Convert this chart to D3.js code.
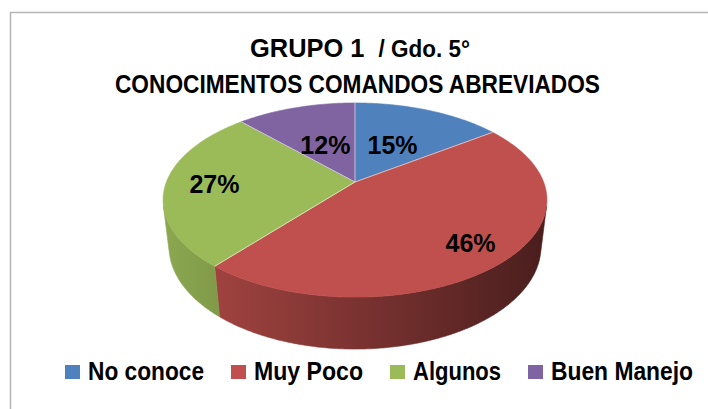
<!DOCTYPE html>
<html>
<head>
<meta charset="utf-8">
<script src="https://cdn.jsdelivr.net/npm/d3@7"></script>
<style>
  html, body { margin: 0; padding: 0; background: #fff; }
  svg { display: block; }
  text { font-family: "Liberation Sans", Arial, sans-serif; font-weight: bold; fill: #000; white-space: pre; }
</style>
</head>
<body>
<script>

// chart data
var categories = ["No conoce", "Muy Poco", "Algunos", "Buen Manejo"];
var values = [15, 46, 27, 12];
var labels = ["15%", "46%", "27%", "12%"];
var colors = ["#4F81BD", "#C0504D", "#9BBB59", "#8064A2"];

var width = 708;
var height = 409;

var svg = d3.select("body").append("svg")
    .attr("width", width)
    .attr("height", height);

// chart frame (runs off the right and bottom of the picture)
svg.append("rect")
    .attr("x", 10.5)
    .attr("y", 12.5)
    .attr("width", 720)
    .attr("height", 420)
    .attr("fill", "none")
    .attr("stroke", "#b5b5b5")
    .attr("stroke-width", 1.5);

// title
var title1 = svg.append("text")
    .attr("x", 360)
    .attr("y", 57)
    .attr("text-anchor", "middle")
    .attr("textLength", 220)
    .attr("lengthAdjust", "spacingAndGlyphs");
title1.append("tspan").style("font-size", "26px").text("GRUPO 1  ");
title1.append("tspan").style("font-size", "23px").text("/ Gdo. 5°");

svg.append("text")
    .attr("x", 357.5)
    .attr("y", 93)
    .attr("text-anchor", "middle")
    .attr("textLength", 485)
    .attr("lengthAdjust", "spacingAndGlyphs")
    .style("font-size", "26px")
    .text("CONOCIMENTOS COMANDOS ABREVIADOS");

// 3d pie: simple perspective camera looking down on a flat disc
var cx = 355, cy = 182;        // where the disc centre lands on screen
var unit = 188.6;              // screen size of one disc radius
var camDist = 4.67;            // camera distance in disc radii
var tilt = 29.8 * Math.PI / 180;
var thick = 0.29;              // pie height in disc radii
var sa = Math.sin(tilt), ca = Math.cos(tilt);

function project(X, Y, Z) {
    var d = camDist - Y * sa - Z * ca;
    return [cx + unit * camDist * X / d,
            cy - unit * camDist * (Y * ca - Z * sa) / d];
}

// angle 0 = back of the disc, clockwise seen from above (same as d3.pie)
function rim(theta, r, Y) {
    return project(r * Math.sin(theta), Y, -r * Math.cos(theta));
}

function arcPoints(a0, a1, r, Y) {
    var n = Math.max(2, Math.ceil((a1 - a0) / 0.01));
    return d3.range(n + 1).map(function(i) {
        return rim(a0 + (a1 - a0) * i / n, r, Y);
    });
}

var line = d3.line();

var arcs = d3.pie()
    .sort(null)
    .value(function(d) { return d; })(values);

// the outer wall faces the camera where Z > 1 / (camDist * cos(tilt))
var zs = 1 / (camDist * ca);
var visA = Math.acos(-zs);
var visB = 2 * Math.PI - visA;
var xLeft = rim(visB, 1, 0)[0];
var xRight = rim(visA, 1, 0)[0];
var shade = d3.scaleLinear().domain([xLeft, xRight]).range([0.9, 0.38]);

var defs = svg.append("defs");
colors.forEach(function(c, i) {
    var g = defs.append("linearGradient")
        .attr("id", "wall" + i)
        .attr("gradientUnits", "userSpaceOnUse")
        .attr("x1", xLeft).attr("x2", xRight)
        .attr("y1", 0).attr("y2", 0);
    [0, 1].forEach(function(t) {
        g.append("stop")
            .attr("offset", t)
            .attr("stop-color", d3.interpolateRgb("#000", c)(shade(xLeft + t * (xRight - xLeft))));
    });
});

var walls = arcs.map(function(a, i) {
    var a0 = Math.max(a.startAngle, visA);
    var a1 = Math.min(a.endAngle, visB);
    if (a1 <= a0) return null;
    var top = arcPoints(a0, a1, 1, 0);
    var bottom = arcPoints(a0, a1, 1, -thick).reverse();
    return {i: i, d: line(top.concat(bottom)) + "Z"};
}).filter(Boolean);

svg.append("g")
    .selectAll("path")
    .data(walls)
    .join("path")
    .attr("d", function(d) { return d.d; })
    .attr("fill", function(d) { return "url(#wall" + d.i + ")"; })
    .attr("stroke", function(d) { return "url(#wall" + d.i + ")"; })
    .attr("stroke-width", 0.6);

// top faces
svg.append("g")
    .selectAll("path")
    .data(arcs)
    .join("path")
    .attr("d", function(a) {
        return line([project(0, 0, 0)].concat(arcPoints(a.startAngle, a.endAngle, 1, 0))) + "Z";
    })
    .attr("fill", function(a, i) { return colors[i]; })
    .attr("stroke", function(a, i) { return colors[i]; })
    .attr("stroke-width", 0.6);

// thin light lines between slices
svg.append("g")
    .selectAll("path")
    .data(arcs)
    .join("path")
    .attr("d", function(a) {
        return line([project(0, 0, 0), rim(a.startAngle, 1, 0)]);
    })
    .attr("fill", "none")
    .attr("stroke", "rgba(255,255,255,0.6)")
    .attr("stroke-width", 1);

// percentage labels, pulled inward on the far side of the disc
svg.append("g")
    .selectAll("text")
    .data(arcs)
    .join("text")
    .attr("transform", function(a) {
        var m = (a.startAngle + a.endAngle) / 2;
        var z = -Math.cos(m);
        var r = 0.74 + 0.3 * Math.min(z, 0) + 0.08 * Math.max(z, 0);
        return "translate(" + rim(m, r, 0) + ")";
    })
    .attr("text-anchor", "middle")
    .attr("dy", "0.36em")
    .style("font-size", "25px")
    .text(function(a, i) { return labels[i]; });

// legend
var legendTextWidths = [116, 109, 88, 142];
var legendX = 65, legendGap = 27, boxSize = 15;
var legend = svg.append("g");
var cursor = legendX;
categories.forEach(function(name, i) {
    legend.append("rect")
        .attr("x", cursor)
        .attr("y", 365)
        .attr("width", boxSize)
        .attr("height", 14)
        .attr("fill", colors[i]);
    legend.append("text")
        .attr("x", cursor + boxSize + 8)
        .attr("y", 380)
        .attr("textLength", legendTextWidths[i])
        .attr("lengthAdjust", "spacingAndGlyphs")
        .style("font-size", "25px")
        .text(name);
    cursor += boxSize + 8 + legendTextWidths[i] + legendGap;
});

</script>
</body>
</html>
